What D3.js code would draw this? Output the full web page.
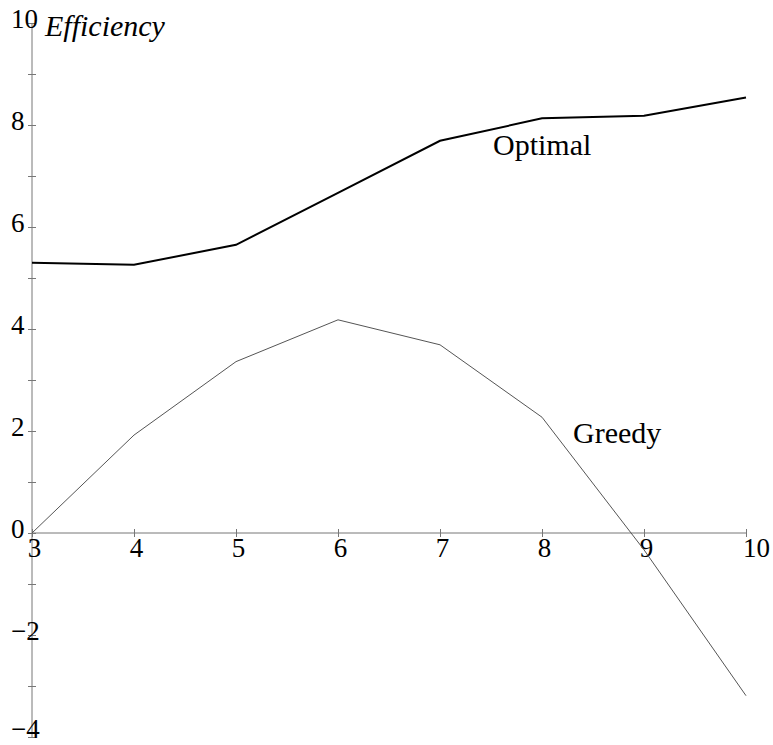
<!DOCTYPE html>
<html>
<head>
<meta charset="utf-8">
<script src="https://cdn.jsdelivr.net/npm/d3@7"></script>
<style>
  body { margin: 0; background: #fff; }
  svg text { font-family: "Liberation Serif", "Times New Roman", Times, serif !important; }
</style>
</head>
<body>
<script>
// Data
var nodes = [3, 4, 5, 6, 7, 8, 9, 10]
var optimal = [5.30, 5.26, 5.65, 6.67, 7.69, 8.13, 8.18, 8.54]
var greedy = [0, 1.92, 3.36, 4.18, 3.69, 2.27, -0.33, -3.19]
var xTicks = [3, 4, 5, 6, 7, 8, 9, 10]
var yMajor = [-4, -2, 0, 2, 4, 6, 8, 10]
var yMinor = [-3, -1, 1, 3, 5, 7, 9]

var width = 773, height = 745
var serif = "Liberation Serif, Times New Roman, serif"

var x = d3.scaleLinear().domain([3, 10]).range([32, 746])
var y = d3.scaleLinear().domain([-4, 10]).range([737, 23])

var svg = d3.select("body")
    .append("svg")
        .attr("width", width)
        .attr("height", height)
        .attr("font-family", serif)

// Y axis (through x = 3)
var yAxis = d3.axisLeft(y).tickValues(yMajor.concat(yMinor)).tickSize(4)
    .tickFormat(d => yMajor.indexOf(d) >= 0 ? d3.format("d")(d) : "")
var gy = svg.append("g")
    .attr("transform", "translate(" + x(3) + ",0)")
    .call(yAxis)
    .attr("font-family", serif)
gy.select(".domain").attr("stroke", "#777").attr("d", "M0," + y(10) + "V" + y(-4))
gy.selectAll(".tick line").attr("stroke", "#777").attr("x1", -4).attr("x2", 4)
gy.selectAll(".tick text")
    .attr("x", 11 - x(3))
    .attr("dy", d => d == -4 ? "0.03em" : "0.17em")
    .attr("text-anchor", "start")
    .attr("font-size", 27)
    .attr("fill", "#000")

// X axis (through y = 0)
var xAxis = d3.axisBottom(x).tickValues(xTicks).tickSize(4).tickFormat(d3.format("d"))
var gx = svg.append("g")
    .attr("transform", "translate(0," + y(0) + ")")
    .call(xAxis)
    .attr("font-family", serif)
gx.select(".domain").attr("stroke", "#777").attr("d", "M" + x(3) + ",0H" + x(10))
gx.selectAll(".tick line").attr("stroke", "#777").attr("y1", -4).attr("y2", 4)
gx.selectAll(".tick text")
    .attr("y", 24)
    .attr("dy", 0)
    .attr("dx", d => d == 10 ? 10 : 2)
    .attr("font-size", 27)
    .attr("fill", "#000")

// Lines
var line = d3.line()
    .x(d => x(d[0]))
    .y(d => y(d[1]))

svg.append("path")
    .datum(d3.zip(nodes, greedy))
    .attr("fill", "none")
    .attr("stroke", "#555")
    .attr("stroke-width", 1)
    .attr("d", line)

svg.append("path")
    .datum(d3.zip(nodes, optimal))
    .attr("fill", "none")
    .attr("stroke", "#000")
    .attr("stroke-width", 2)
    .attr("d", line)

// Labels
svg.append("text")
    .attr("x", 45).attr("y", 36)
    .attr("font-size", 30)
    .attr("font-style", "italic")
    .text("Efficiency")

svg.append("text")
    .attr("x", 493).attr("y", 155)
    .attr("font-size", 30)
    .text("Optimal")

svg.append("text")
    .attr("x", 573).attr("y", 443)
    .attr("font-size", 30)
    .text("Greedy")
</script>
</body>
</html>
